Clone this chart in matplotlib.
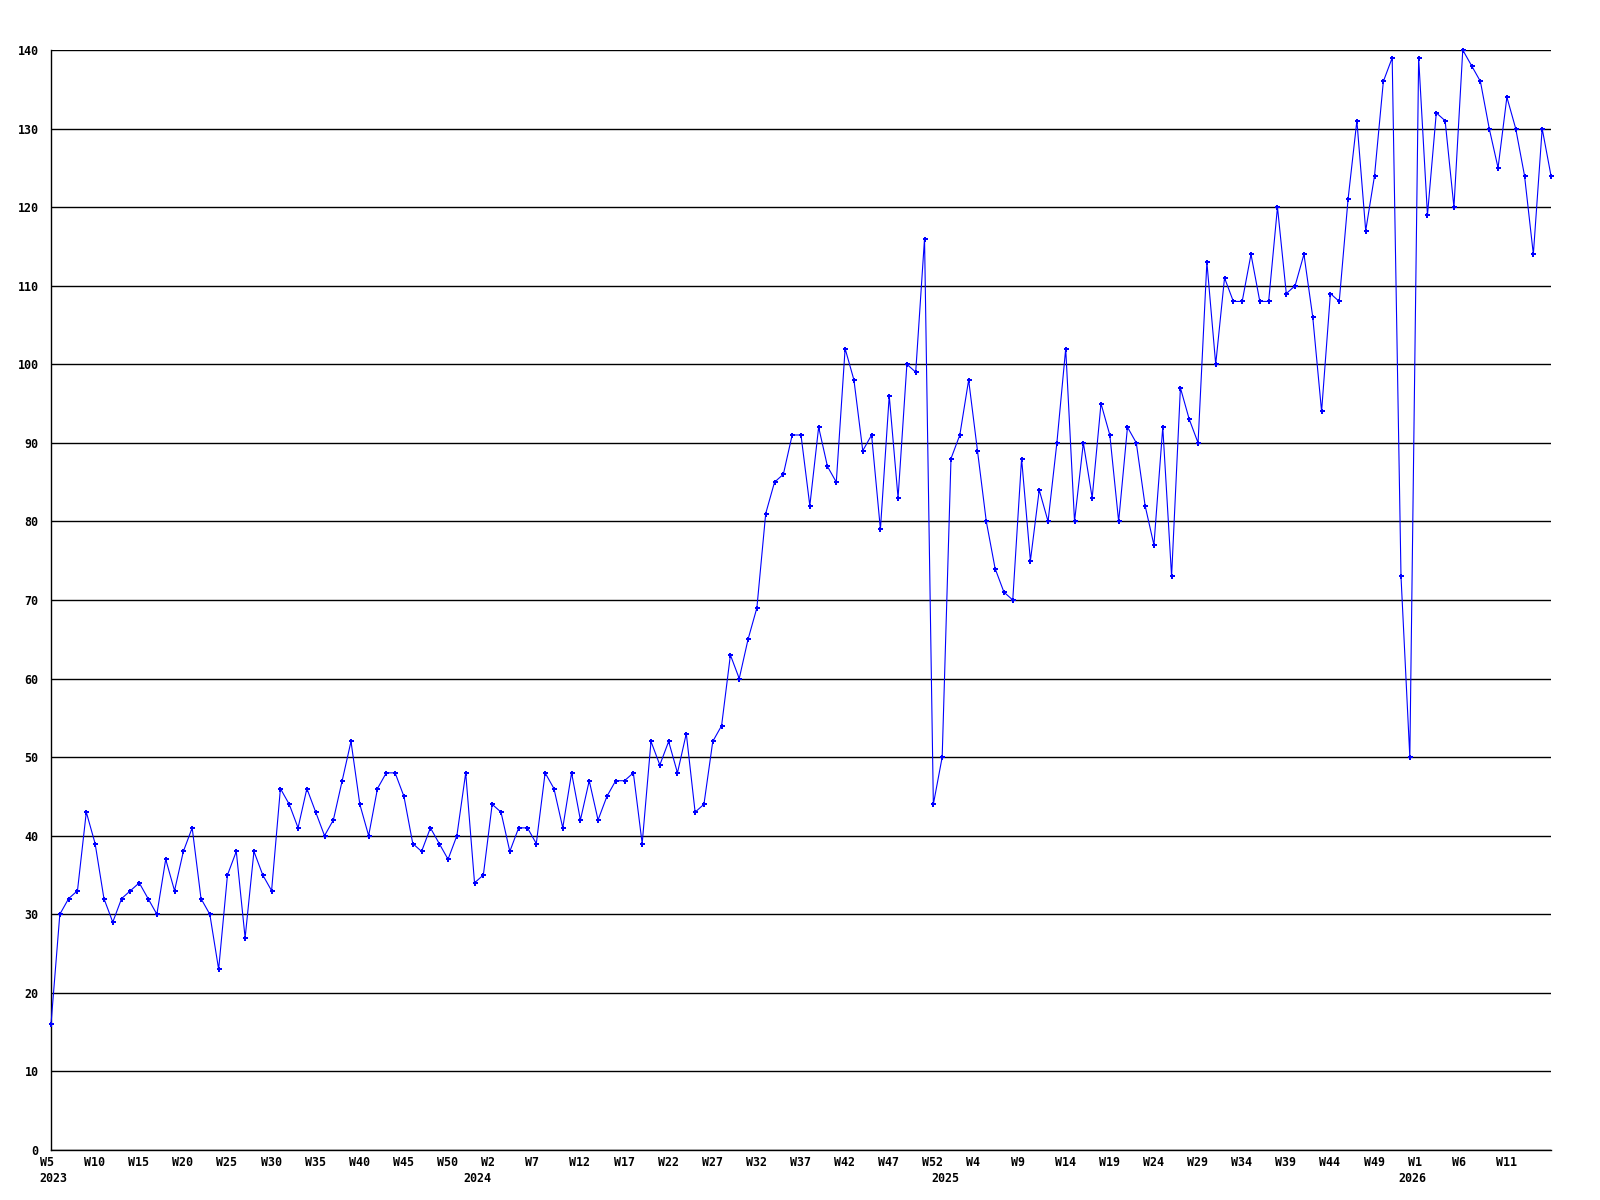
import numpy as np
import matplotlib
matplotlib.use('Agg')
import matplotlib.pyplot as plt
import matplotlib.transforms as mtransforms

# weekly values, 2023 W5 onward
values = [
    16, 30, 32, 33, 43, 39, 32, 29, 32, 33, 34, 32, 30, 37, 33, 38, 41, 32, 30, 23,
    35, 38, 27, 38, 35, 33, 46, 44, 41, 46, 43, 40,
    42, 47, 52, 44, 40, 46, 48, 48, 45, 39, 38, 41, 39, 37, 40, 48, 34, 35, 44, 43,
    38, 41, 41, 39, 48, 46, 41, 48, 42, 47, 42, 45, 47,
    47, 48, 39, 52, 49, 52, 48, 53, 43, 44, 52, 54, 63, 60, 65, 69, 81, 85, 86, 91,
    91, 82, 92, 87, 85,
    102, 98, 89, 91, 79, 96, 83, 100, 99, 116, 44, 50, 88, 91, 98, 89, 80, 74, 71, 70,
    88, 75, 84, 80, 90, 102, 80, 90, 83, 95, 91, 80,
    92, 90, 82, 77, 92, 73, 97, 93, 90, 113, 100, 111, 108, 108, 114, 108, 108, 120,
    109, 110, 114, 106, 94, 109, 108,
    121, 131, 117, 124, 136, 139, 73, 50, 139, 119, 132, 131, 120, 140, 138, 136, 130,
    125, 134, 130, 124, 114, 130, 124,
]

week_labels = ['W5', 'W10', 'W15', 'W20', 'W25', 'W30', 'W35', 'W40', 'W45', 'W50',
               'W2', 'W7', 'W12', 'W17', 'W22', 'W27', 'W32', 'W37', 'W42', 'W47', 'W52',
               'W4', 'W9', 'W14', 'W19', 'W24', 'W29', 'W34', 'W39', 'W44', 'W49',
               'W1', 'W6', 'W11']
years = ['2023', '2024', '2025', '2026']
year_pos = [0, 49, 102, 155]

x = np.arange(len(values))
font = {'family': 'DejaVu Sans Mono', 'weight': 'bold', 'size': 8.4}

fig = plt.figure(figsize=(16, 12), dpi=100)
ax = fig.add_axes([51 / 1600, 50 / 1200, 1500 / 1600, 1100 / 1200])

ax.plot(x, values, color='#0000ff', linewidth=0.8, marker='P', markersize=3.6,
        markeredgewidth=0, clip_on=False, zorder=3)

ax.set_xlim(0, len(values) - 1)
ax.set_ylim(0, 140)
ax.set_yticks(np.arange(0, 141, 10))
ax.set_yticklabels([str(v) for v in range(0, 141, 10)], fontdict=font)
ax.yaxis.grid(True, color='black', linewidth=1.0)
ax.set_axisbelow(True)

for s in ['top', 'right']:
    ax.spines[s].set_visible(False)
ax.spines['left'].set_linewidth(1.0)
ax.spines['bottom'].set_linewidth(1.0)
ax.tick_params(axis='both', length=0)
ax.tick_params(axis='y', pad=9)
ax.tick_params(axis='x', pad=4)

ax.set_xticks(x[:len(week_labels) * 5:5])
ax.set_xticklabels(week_labels, fontdict=font, ha='left')
shift = mtransforms.ScaledTranslation(-11 / 100, 0, fig.dpi_scale_trans)
for lab in ax.get_xticklabels():
    lab.set_transform(lab.get_transform() + shift)

trans = mtransforms.blended_transform_factory(ax.transData, ax.transAxes)
for i, (yr, p) in enumerate(zip(years, year_pos)):
    if i == 0:
        off = mtransforms.ScaledTranslation(-12 / 100, -22 / 100, fig.dpi_scale_trans)
        ax.text(p, 0, yr, transform=trans + off, ha='left', va='top', **font)
    else:
        off = mtransforms.ScaledTranslation(-6 / 100, -22 / 100, fig.dpi_scale_trans)
        ax.text(p, 0, yr, transform=trans + off, ha='center', va='top', **font)

plt.savefig('out.png', dpi=100)
